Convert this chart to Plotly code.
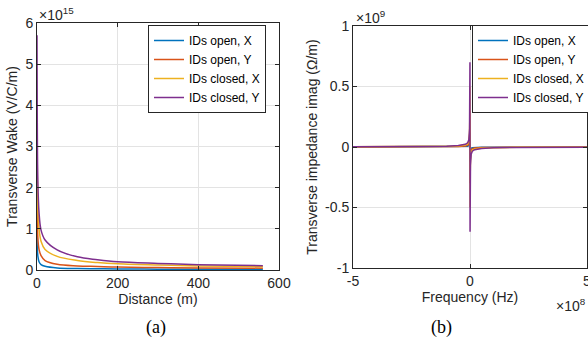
import plotly.graph_objects as go

# ---------------- data ----------------
series_names = ["IDs open, X", "IDs open, Y", "IDs closed, X", "IDs closed, Y"]
series_colors = ["#0072BD", "#D95319", "#EDB120", "#7E2F8E"]

# (a) transverse wake, values in units of 1e15 V/C/m
distance_m = [0.0, 0.5, 2, 5, 10, 20, 50, 100, 150, 200, 300, 400, 560]
wake_open_x = [0.9, 0.6, 0.35, 0.2, 0.13, 0.09, 0.05, 0.035, 0.03, 0.025, 0.02, 0.018, 0.015]
wake_open_y = [2.2, 1.6, 0.8, 0.5, 0.35, 0.23, 0.14, 0.1, 0.085, 0.07, 0.06, 0.05, 0.045]
wake_closed_x = [3.8, 2.8, 1.6, 1.0, 0.7, 0.5, 0.33, 0.23, 0.18, 0.15, 0.12, 0.1, 0.08]
wake_closed_y = [5.7, 4.0, 2.2, 1.4, 0.97, 0.73, 0.49, 0.32, 0.25, 0.2, 0.16, 0.13, 0.105]

# (b) transverse impedance imaginary part, values in units of 1e9 Ohm/m
freq_hz = [-5e8, -2e8, -1e8, -5e7, -2e7, -1e7, -5e6, -2e6, -1e6, -2e5,
           2e5, 1e6, 2e6, 5e6, 1e7, 2e7, 5e7, 1e8, 2e8, 5e8]
imp_open_x = [0.0005, 0.001, 0.0015, 0.002, 0.004, 0.006, 0.01, 0.025, 0.05, 0.12,
              -0.12, -0.05, -0.025, -0.01, -0.006, -0.004, -0.002, -0.0015, -0.001, -0.0005]
imp_open_y = [0.001, 0.002, 0.003, 0.005, 0.009, 0.014, 0.025, 0.06, 0.12, 0.3,
              -0.3, -0.12, -0.06, -0.025, -0.014, -0.009, -0.005, -0.003, -0.002, -0.001]
imp_closed_x = [0.0015, 0.003, 0.005, 0.009, 0.016, 0.025, 0.045, 0.11, 0.22, 0.5,
                -0.5, -0.22, -0.11, -0.045, -0.025, -0.016, -0.009, -0.005, -0.003, -0.0015]
imp_closed_y = [0.002, 0.004, 0.007, 0.012, 0.022, 0.035, 0.06, 0.15, 0.3, 0.7,
                -0.7, -0.3, -0.15, -0.06, -0.035, -0.022, -0.012, -0.007, -0.004, -0.002]

wake_x_ticks = [0, 200, 400, 600]
wake_y_ticks = [0, 1, 2, 3, 4, 5, 6]
imp_x_ticks = [-5e8, 0, 5e8]
imp_x_ticktext = ["-5", "0", "5"]
imp_y_ticks = [-1, -0.5, 0, 0.5, 1]
imp_y_ticktext = ["-1", "-0.5", "0", "0.5", "1"]

# ---------------- figure ----------------
FONT = "Liberation Sans, Arial, sans-serif"
AX = "#262626"
GRID = "#e3e3e3"

fig = go.Figure()
wakes = [wake_open_x, wake_open_y, wake_closed_x, wake_closed_y]
imps = [imp_open_x, imp_open_y, imp_closed_x, imp_closed_y]
for name, col, w in zip(series_names, series_colors, wakes):
    fig.add_trace(go.Scatter(x=distance_m, y=w, mode="lines", name=name,
                             line=dict(color=col, width=1.5), line_shape="spline",
                             xaxis="x", yaxis="y", legend="legend"))
for name, col, z in zip(series_names, series_colors, imps):
    fig.add_trace(go.Scatter(x=freq_hz, y=z, mode="lines", name=name,
                             line=dict(color=col, width=1.5),
                             xaxis="x2", yaxis="y2", legend="legend2"))

common = dict(showline=True, linecolor=AX, linewidth=1, mirror="ticks",
              ticks="inside", ticklen=4, tickcolor=AX, showgrid=True,
              gridcolor=GRID, gridwidth=1, zeroline=False, automargin=False,
              ticklabeloverflow="allow",
              tickfont=dict(family=FONT, size=14, color=AX),
              title_font=dict(family=FONT, size=14, color=AX))

legend_style = dict(bgcolor="white", bordercolor=AX, borderwidth=1,
                    font=dict(family=FONT, size=12, color="black"),
                    xanchor="left", yanchor="top", itemwidth=30,
                    tracegroupgap=0)

fig.update_layout(
    width=588, height=351,
    margin=dict(l=0, r=0, t=0, b=0, autoexpand=False),
    paper_bgcolor="white", plot_bgcolor="white",
    showlegend=True,
    xaxis=dict(domain=[37/588, 279/588], range=[0, 600], tickvals=wake_x_ticks,
               title=dict(text="Distance (m)", standoff=4), anchor="y", **common),
    yaxis=dict(domain=[1-270/351, 1-23/351], range=[0, 6], tickvals=wake_y_ticks,
               title=dict(text="Transverse Wake (V/C/m)", standoff=4), anchor="x", **common),
    xaxis2=dict(domain=[353/588, 587/588], range=[-5e8, 5e8], tickvals=imp_x_ticks,
                ticktext=imp_x_ticktext,
                title=dict(text="Frequency (Hz)", standoff=4), anchor="y2", **common),
    yaxis2=dict(domain=[1-268/351, 1-26/351], range=[-1, 1], tickvals=imp_y_ticks,
                ticktext=imp_y_ticktext,
                title=dict(text="Transverse impedance imag (Ω/m)", standoff=4),
                anchor="x2", **common),
    legend=dict(x=148/588, y=1-25/351, **legend_style),
    legend2=dict(x=472/588, y=1-25/351, **legend_style),
)

ann_font = dict(family=FONT, size=14, color=AX)
fig.add_annotation(text="×10<sup>15</sup>", x=37/588, y=1-14/351, xref="paper", yref="paper",
                   xanchor="left", yanchor="middle", showarrow=False, font=ann_font)
fig.add_annotation(text="×10<sup>9</sup>", x=354/588, y=1-17/351, xref="paper", yref="paper",
                   xanchor="left", yanchor="middle", showarrow=False, font=ann_font)
fig.add_annotation(text="×10<sup>8</sup>", x=588/588, y=1-305/351, xref="paper", yref="paper",
                   xanchor="right", yanchor="middle", showarrow=False, font=ann_font)
cap_font = dict(family="Liberation Serif, Times New Roman, serif", size=18, color="black")
fig.add_annotation(text="(a)", x=156/588, y=1-327/351, xref="paper", yref="paper",
                   xanchor="center", yanchor="middle", showarrow=False, font=cap_font)
fig.add_annotation(text="(b)", x=441/588, y=1-327/351, xref="paper", yref="paper",
                   xanchor="center", yanchor="middle", showarrow=False, font=cap_font)

fig.write_html("out.html", config={"displayModeBar": False},
               post_script="document.body.style.margin='0';document.body.style.overflow='hidden';")
